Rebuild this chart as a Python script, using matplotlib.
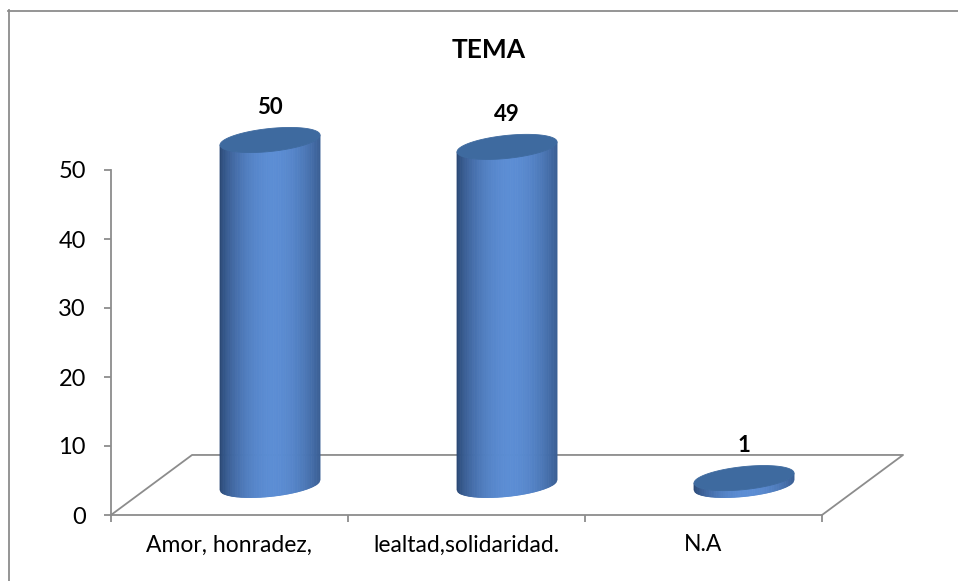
import numpy as np
import matplotlib
matplotlib.use("Agg")
import matplotlib.pyplot as plt
from matplotlib.collections import PolyCollection
from matplotlib.colors import to_rgb

# Datos del gráfico
categorias = ["Amor, honradez,", "lealtad,solidaridad.", "N.A"]
valores = [50, 49, 1]
ticks_y = [0, 10, 20, 30, 40, 50]
titulo = "TEMA"

plt.rcParams["font.family"] = ["Lato", "DejaVu Sans"]

GRIS = "#8c8c8c"
OSCURO = to_rgb("#274470")
CLARO = to_rgb("#5b8dd4")
TAPA = "#3e6a9f"

# profundidad del "piso" 3D (en unidades de datos)
prof_x, prof_y = 0.342, 8.7
radio_x, radio_y, incl = 0.211, 1.67, 0.72


def elipse_baja(xs, cx, cy):
    u = np.clip((xs - cx) / radio_x, -1, 1)
    return cy - radio_y * np.sqrt(1 - u ** 2) + incl * u


def dibujar_cilindro(ax, cx, base, valor):
    cima = base + valor
    xs = np.linspace(cx - radio_x, cx + radio_x, 80)
    polys, colores = [], []
    for x1, x2 in zip(xs[:-1], xs[1:]):
        u = ((x1 + x2) / 2 - cx) / radio_x
        f = np.clip(np.cos(np.pi / 2 * (u - 0.08) / 1.08), 0, 1) ** 0.7
        c = tuple(o + (l - o) * f for o, l in zip(OSCURO, CLARO))
        polys.append([(x1, elipse_baja(x1, cx, base)), (x2, elipse_baja(x2, cx, base)),
                      (x2, elipse_baja(x2, cx, cima)), (x1, elipse_baja(x1, cx, cima))])
        colores.append(c)
    pc = PolyCollection(polys, facecolors=colores, edgecolors=colores,
                        linewidths=0.6, clip_on=False, zorder=3)
    ax.add_collection(pc)
    t = np.linspace(0, 2 * np.pi, 200)
    ex = cx + radio_x * np.cos(t)
    ey = cima + radio_y * np.sin(t) + incl * np.cos(t)
    ax.fill(ex, ey, color=TAPA, lw=0.6, clip_on=False, zorder=4)
    # altura del borde superior de la tapa
    return cima + np.hypot(radio_y, incl)


fig = plt.figure(figsize=(9.58, 5.81), dpi=100)
ax = fig.add_axes([111 / 958, 1 - 515 / 581, 711 / 958, 345 / 581])

n = len(categorias)
ax.set_xlim(-0.5, n - 0.5)
ax.set_ylim(0, 50)

# piso
ax.plot([-0.5, -0.5 + prof_x, n - 0.5 + prof_x, n - 0.5],
        [0, prof_y, prof_y, 0], color=GRIS, lw=1.3, clip_on=False, zorder=1)

for i, v in enumerate(valores):
    cx = i + prof_x / 2
    base = prof_y / 2
    tope = dibujar_cilindro(ax, cx, base, v)
    ax.text(cx, tope + 1.9, str(v), ha="center", va="baseline",
            fontsize=16, fontweight="bold", color="black", zorder=5)

for s in ["top", "right"]:
    ax.spines[s].set_visible(False)
for s in ["left", "bottom"]:
    ax.spines[s].set_color(GRIS)
    ax.spines[s].set_linewidth(1.3)

ax.set_yticks(ticks_y)
ax.set_yticklabels([str(t) for t in ticks_y], fontsize=17)
ax.tick_params(axis="y", length=5, width=1.3, color=GRIS, pad=13)
ax.set_xticks(np.arange(-0.5, n, 1.0))
ax.set_xticklabels([])
ax.tick_params(axis="x", which="major", length=5, width=1.3, color=GRIS)
ax.set_xticks(np.arange(n), minor=True)
ax.set_xticklabels(categorias, minor=True, fontsize=16.5)
ax.tick_params(axis="x", which="minor", length=0, pad=14)
ax.set_facecolor("none")

fig.text(489 / 958, 1 - 58 / 581, titulo, ha="center", va="baseline",
         fontsize=19, fontweight="bold")

# borde del gráfico
fig.add_artist(plt.Line2D([8.5 / 958, 8.5 / 958], [0, 1 - 10 / 581],
                          transform=fig.transFigure, color=GRIS, lw=1.3))
fig.add_artist(plt.Line2D([8 / 958, 1], [1 - 10.5 / 581, 1 - 10.5 / 581],
                          transform=fig.transFigure, color=GRIS, lw=1.3))

fig.savefig("out.png", dpi=100)
